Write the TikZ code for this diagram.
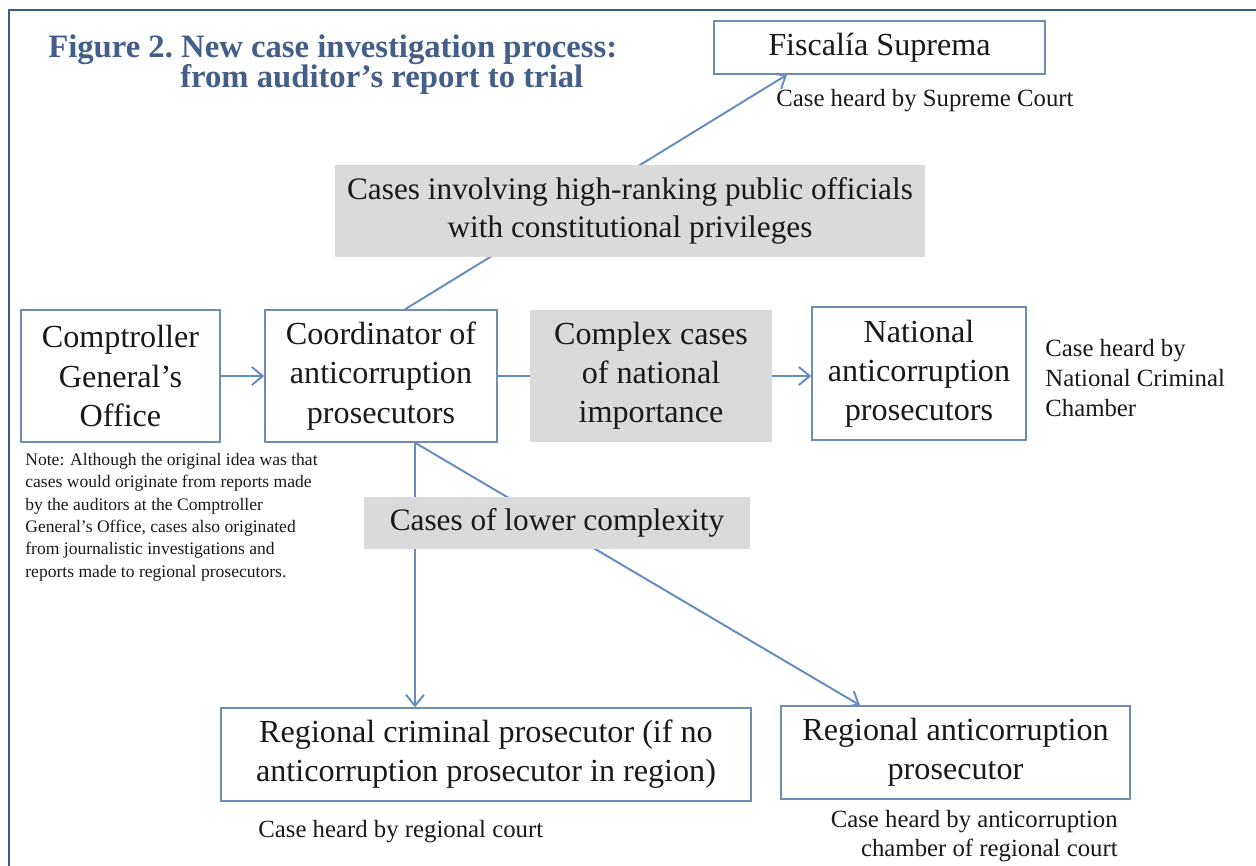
\documentclass[tikz,border=0pt]{standalone}
\usepackage{fontspec}
\setmainfont{Liberation Serif}
\usetikzlibrary{arrows.meta,backgrounds}
\definecolor{framecol}{RGB}{56,93,138}
\definecolor{titlecol}{RGB}{68,94,138}
\definecolor{linecol}{RGB}{100,140,190}
\definecolor{boxcol}{RGB}{110,140,180}
\definecolor{grayfill}{RGB}{218,218,218}
\definecolor{txt}{RGB}{25,25,25}
\begin{document}
\begin{tikzpicture}[x=0.02cm,y=-0.02cm,
  box/.style={draw=boxcol,line width=0.8pt,fill=white,align=center,inner sep=0pt,
    font=\fontsize{18.3}{22.3}\selectfont,text=txt},
  graybox/.style={fill=grayfill,align=center,inner sep=0pt,
    font=\fontsize{17.8}{21.5}\selectfont,text=txt},
  conn/.style={draw=linecol,line width=1.1pt},
  arr/.style={conn,-{Straight Barb[length=2.2mm,width=3.6mm]}},
  captext/.style={inner sep=0pt,font=\fontsize{14.1}{17}\selectfont,text=txt},
  notetext/.style={inner sep=0pt,font=\fontsize{10}{12.7}\selectfont,text=txt,align=left}]
\useasboundingbox (0,0) rectangle (1256,865);
% frame
\draw[framecol,line width=1.2pt] (9,880) |- (1270,10);
% title
\node[anchor=base west,inner sep=0pt,align=left,text=titlecol,
  font=\bfseries\fontsize{18.6}{17.6}\selectfont] (title) at (48,88)
  {Figure 2.\ New case investigation process:\\\hspace*{2.64cm}from auditor’s report to trial};
% nodes
\node[box,minimum width=6.62cm,minimum height=1.06cm] (fis) at (879.5,47.5) {Fiscalía Suprema};
\node[graybox,minimum width=11.8cm,minimum height=1.84cm] (high) at (630,211)
  {Cases involving high-ranking public officials\\with constitutional privileges};
\node[box,minimum width=3.98cm,minimum height=2.64cm] (comp) at (120.5,376)
  {Comptroller\\General’s\\Office};
\node[box,minimum width=4.64cm,minimum height=2.64cm] (coord) at (381,376)
  {Coordinator of\\anticorruption\\prosecutors};
\node[graybox,minimum width=4.84cm,minimum height=2.64cm,font=\fontsize{18.3}{22.3}\selectfont] (complex) at (651,376)
  {Complex cases\\of national\\importance};
\node[box,minimum width=4.28cm,minimum height=2.66cm] (nat) at (919,373.5)
  {National\\anticorruption\\prosecutors};
\node[graybox,minimum width=7.72cm,minimum height=1.04cm] (lower) at (557,523)
  {Cases of lower complexity};
\node[box,minimum width=10.6cm,minimum height=1.86cm] (rcrim) at (486,754.5)
  {Regional criminal prosecutor (if no\\anticorruption prosecutor in region)};
\node[box,minimum width=6.98cm,minimum height=1.86cm] (ranti) at (955.5,752.5)
  {Regional anticorruption\\prosecutor};
% captions
\node[captext,anchor=west] (capfis) at (776,101) {Case heard by Supreme Court};
\node[captext,anchor=west,align=left] (capnat) at (1045,378)
  {Case heard by\\National Criminal\\Chamber};
\node[captext,anchor=west] (caprc) at (258,832) {Case heard by regional court};
\node[captext,anchor=east,align=right] (capra) at (1118,836)
  {Case heard by anticorruption\\chamber of regional court};
\node[notetext,anchor=north west] (note) at (25,453)
  {Note: Although the original idea was that\\cases would originate from reports made\\by the auditors at the Comptroller\\General’s Office, cases also originated\\from journalistic investigations and\\reports made to regional prosecutors.};
% connectors
\begin{scope}[on background layer]
\draw[arr] (comp.east) -- (coord.west);
\draw[conn] (coord.east) -- (complex.west);
\draw[arr] (complex.east) -- (complex.east -| nat.west);
\draw[arr] ([xshift=0.48cm]coord.north) -- ([xshift=-1.85cm]fis.south);
\draw[arr] ([xshift=0.68cm]coord.south) -- ([xshift=0.68cm]coord.south |- rcrim.north);
\draw[arr] ([xshift=0.68cm]coord.south) -- ([xshift=-1.91cm]ranti.north);
\end{scope}
\end{tikzpicture}
\end{document}
